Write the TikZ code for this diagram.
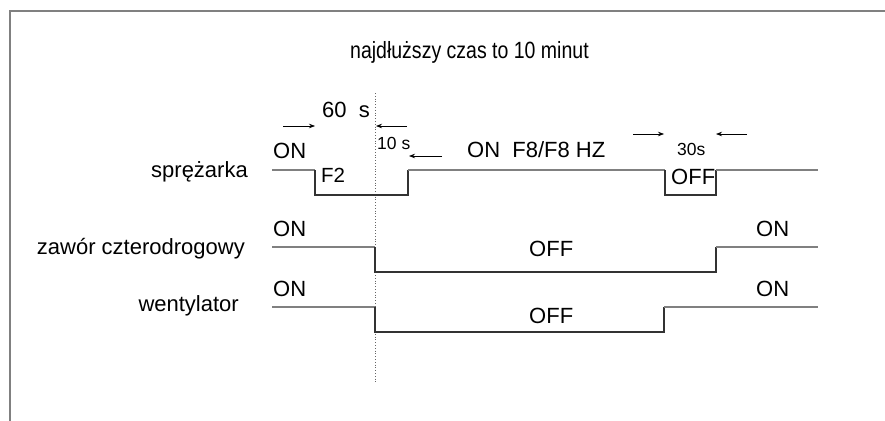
\documentclass[tikz,border=0pt]{standalone}
\usepackage{fontspec}
\setmainfont{Liberation Sans}
\newfontfamily\narrowfont[FakeStretch=0.83]{Liberation Sans}
\usetikzlibrary{arrows.meta}
\begin{document}
\begin{tikzpicture}[x=1pt,y=-1pt,
  txt/.style={inner sep=0pt, anchor=base west, font=\fontsize{22}{25}\selectfont},
  midtxt/.style={inner sep=0pt, anchor=base west, font=\fontsize{20.5}{24}\selectfont},
  smalltxt/.style={inner sep=0pt, anchor=base west, font=\fontsize{17.5}{20}\selectfont},
  lab/.style={inner sep=0pt, anchor=base east, font=\fontsize{22}{25}\selectfont},
  hi/.style={draw=black!50, line width=1.5pt},
  sig/.style={draw=black!80, line width=1.3pt},
  dim/.style={draw=black, line width=0.7pt, -{Stealth[length=6pt,width=4.5pt]}},
  frame/.style={draw=black!50, line width=2pt}]
\useasboundingbox (0,0) rectangle (885,420);
\draw[frame] (10,422) -- (10,11) -- (887,11);
% title
\node[inner sep=0pt, anchor=base west, font=\narrowfont\fontsize{23.5}{26}\selectfont] (title) at (350,59) {najdłuższy czas to 10 minut};
% dotted marker
\coordinate (dtop) at (375,93);
\coordinate (dbot) at (375,382);
\draw[black!60, line width=0.8pt, dotted] (dtop) -- (dbot);
% labels
\node[lab] (lsp) at (248,177) {sprężarka};
\node[lab] (lza) at (245,254) {zawór czterodrogowy};
\node[lab] (lwe) at (239,311) {wentylator};
% compressor signal
\coordinate (s0) at (272,170);
\coordinate (s1) at (315,170);
\coordinate (s2) at (315,195);
\coordinate (s3) at (408,195);
\coordinate (s4) at (408,170);
\coordinate (s5) at (665,170);
\coordinate (s6) at (665,195);
\coordinate (s7) at (716,195);
\coordinate (s8) at (716,170);
\coordinate (s9) at (818,170);
\draw[hi] (s0) -- (s1);
\draw[sig] (s1) -- (s2) -- (s3) -- (s4);
\draw[hi] (s4) -- (s5);
\draw[sig] (s5) -- (s6) -- (s7) -- (s8);
\draw[hi] (s8) -- (s9);
% valve signal
\coordinate (z0) at (272,247);
\coordinate (z1) at (375,247);
\coordinate (z2) at (375,272);
\coordinate (z3) at (716,272);
\coordinate (z4) at (716,247);
\coordinate (z5) at (818,247);
\draw[hi] (z0) -- (z1);
\draw[sig] (z1) -- (z2) -- (z3) -- (z4);
\draw[hi] (z4) -- (z5);
% fan signal
\coordinate (w0) at (272,307);
\coordinate (w1) at (375,307);
\coordinate (w2) at (375,332);
\coordinate (w3) at (664,332);
\coordinate (w4) at (664,307);
\coordinate (w5) at (818,307);
\draw[hi] (w0) -- (w1);
\draw[sig] (w1) -- (w2) -- (w3) -- (w4);
\draw[hi] (w4) -- (w5);
% texts on compressor
\node[txt] (on1) at (273,158) {ON};
\node[midtxt] (f2) at (321,182) {F2};
\node[txt] (t60) at (322,117) {60\ \ s};
\node[smalltxt] (t10) at (377,149) {10 s};
\node[txt] (onf8) at (467,157) {ON\ \ F8/F8 HZ};
\node[smalltxt] (t30) at (677,155) {30s};
\node[txt] (off1) at (671,184) {OFF};
% dimension arrows
\coordinate (a1s) at (283,126);
\coordinate (a1e) at (315,126);
\coordinate (a2s) at (407,126);
\coordinate (a2e) at (376,126);
\coordinate (a3s) at (442,156);
\coordinate (a3e) at (409,156);
\coordinate (a4s) at (633,134);
\coordinate (a4e) at (664,134);
\coordinate (a5s) at (747,134);
\coordinate (a5e) at (716,134);
\draw[dim] (a1s) -- (a1e);
\draw[dim] (a2s) -- (a2e);
\draw[dim] (a3s) -- (a3e);
\draw[dim] (a4s) -- (a4e);
\draw[dim] (a5s) -- (a5e);
% texts valve
\node[txt] (on2) at (273,236) {ON};
\node[txt] (off2) at (529,256) {OFF};
\node[txt] (on3) at (756,236) {ON};
% texts fan
\node[txt] (on4) at (273,296) {ON};
\node[txt] (off3) at (529,323) {OFF};
\node[txt] (on5) at (756,296) {ON};
\end{tikzpicture}
\end{document}
